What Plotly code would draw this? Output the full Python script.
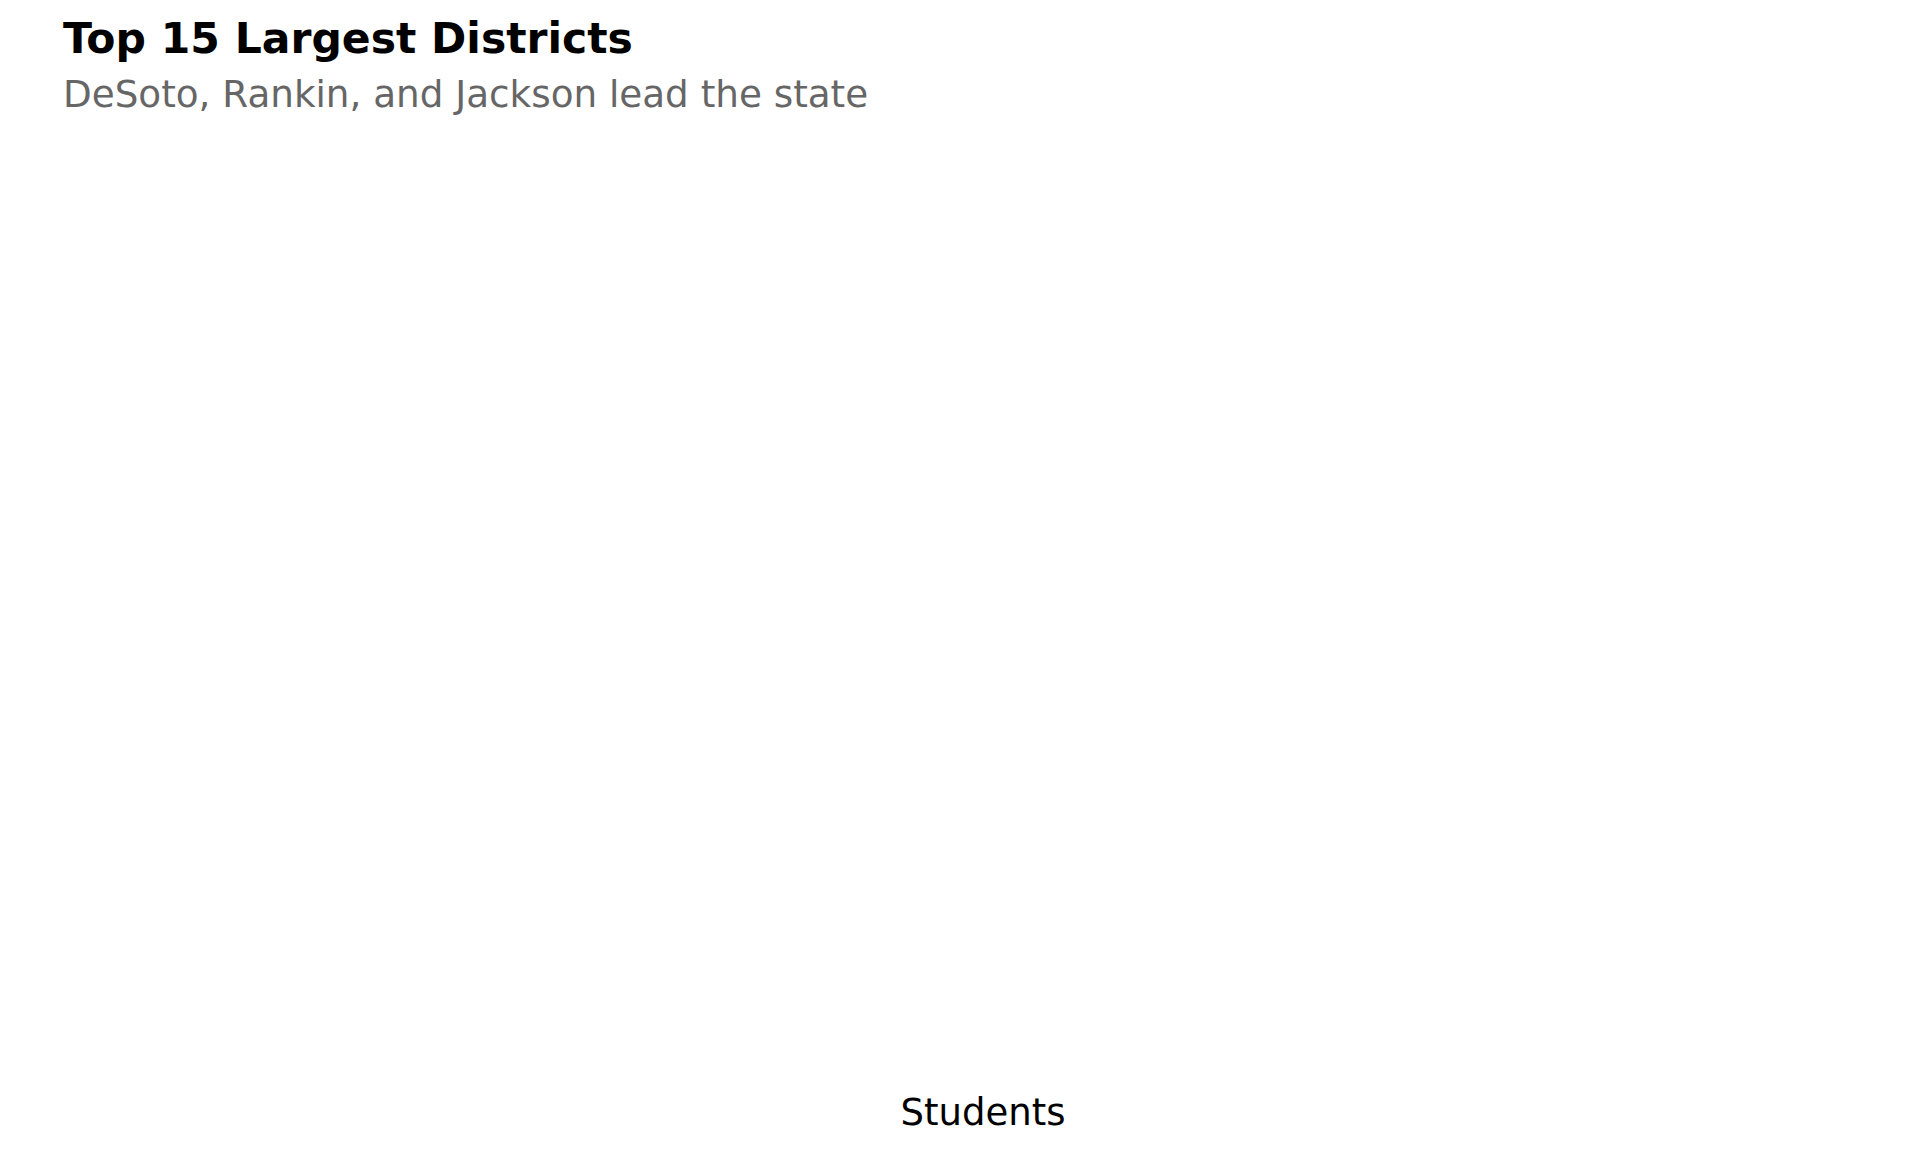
import plotly.graph_objects as go

# District enrollment values (none are drawn in the reference picture)
districts = []
students = []

TITLE = "Top 15 Largest Districts"
SUBTITLE = "DeSoto, Rankin, and Jackson lead the state"
X_TITLE = "Students"

W, H = 1920, 1152
L, R, T, B = 88, 58, 140, 71

fig = go.Figure(data=[go.Bar(x=students, y=districts, orientation="h",
                             marker_color="#2c7fb8")])

fig.update_layout(
    width=W,
    height=H,
    paper_bgcolor="white",
    plot_bgcolor="white",
    font=dict(family="DejaVu Sans", color="black"),
    showlegend=False,
    margin=dict(l=L, r=R, t=T, b=B),
    title=dict(text=f"<b>{TITLE}</b>",
               x=55 / W, xanchor="left", xref="container",
               y=1 - 15 / H, yanchor="top", yref="container",
               font=dict(size=42.5, color="black")),
)
# subtitle placed just under the title, left aligned with it
fig.add_annotation(text=SUBTITLE, showarrow=False,
                   xref="paper", yref="paper",
                   x=(53 - L) / (W - L - R), xanchor="left",
                   y=1 + (T - 86) / (H - T - B), yanchor="middle",
                   font=dict(size=37.3, color="#666666"))
fig.update_xaxes(title=dict(text=X_TITLE, font=dict(size=37, color="black"), standoff=10),
                 showticklabels=False, showgrid=False, zeroline=False, showline=False, ticks="")
fig.update_yaxes(showticklabels=False, showgrid=False, zeroline=False, showline=False, ticks="")

fig.write_html("out.html")
